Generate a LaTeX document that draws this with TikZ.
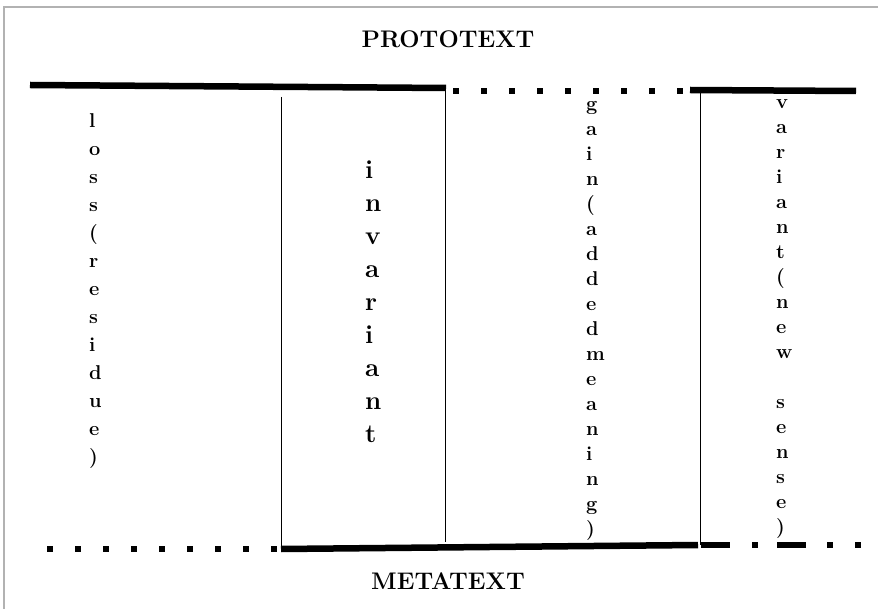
\documentclass[tikz,border=0pt]{standalone}
\usepackage{tikz}
\usetikzlibrary{positioning}

\begin{document}
\begin{tikzpicture}[
    x=1pt, y=-1pt,
    line cap=butt,
    %styles
    heavy line/.style={line width=6.5pt},
    dotted heavy/.style={heavy line,dash pattern=on 6pt off 22pt},
    divider/.style={line width=0.8pt},
    title text/.style={font=\fontsize{24}{28}\selectfont\bfseries},
    letter column/.style={anchor=north west,inner sep=0pt,align=left,font=\fontsize{20}{25}\selectfont\bfseries},
  ]
  \useasboundingbox (0,0) rectangle (878,609);
  %frame
  \draw[gray!60,line width=2pt] (4,609) -- (4,7) -- (878,7);

  %titles
  \node[title text] (proto) at (448,39) {PROTOTEXT};
  \node[title text] (meta) at (448,581) {METATEXT};

  %upper line of the text
  \draw[heavy line] (30,85) -- (446,88);
  \draw[dotted heavy] (453,91) -- (686,91);
  \draw[heavy line] (690,90) -- (856,91);

  %lower line of the text
  \draw[dotted heavy] (47,549) -- (278,549);
  \draw[heavy line] (281,549) -- (698,545);
  \draw[heavy line,dash pattern=on 29pt off 22pt on 6pt off 19pt on 29pt off 21pt on 6pt off 22pt on 6pt off 30pt]
  (701,545) -- (861,545);

  %dividers
  \draw[divider] (281,97) -- (281,548);
  \draw[divider] (445,89) -- (445,542);
  \draw[divider] (700,92) -- (700,545);

  %columns
  \node[letter column,font=\fontsize{20}{28}\selectfont\bfseries] (loss) at (89,113)
  {l\\o\\s\\s\\(\\r\\e\\s\\i\\d\\u\\e\\)};
  \node[letter column,font=\fontsize{26}{33}\selectfont\bfseries] (invariant) at (365,161)
  {i\\n\\v\\a\\r\\i\\a\\n\\t};
  \node[letter column] (gain) at (586,101)
  {g\\a\\i\\n\\(\\a\\d\\d\\e\\d\\m\\e\\a\\n\\i\\n\\g\\)};
  \node[letter column] (variant) at (776,99)
  {v\\a\\r\\i\\a\\n\\t\\(\\n\\e\\w\\\mbox{}\\s\\e\\n\\s\\e\\)};
\end{tikzpicture}
\end{document}
